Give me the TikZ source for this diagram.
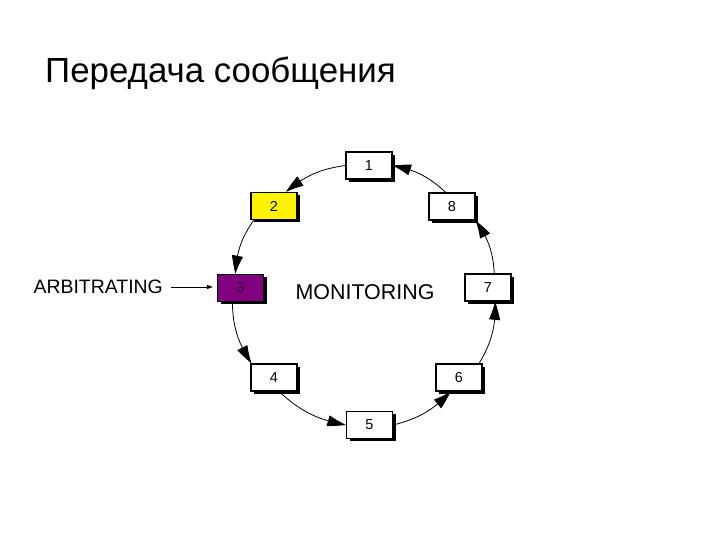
\documentclass[tikz,border=0pt]{standalone}
\usepackage{fontspec}
\setmainfont{Liberation Sans}
\usetikzlibrary{arrows.meta,shadows,bending}
\begin{document}
\begin{tikzpicture}[x=1bp,y=1bp,
	state/.style={draw,fill=white,line width=1.2bp,minimum width=46bp,minimum height=27bp,inner sep=0pt,font=\fontsize{14.5}{14.5}\selectfont,
		drop shadow={shadow xshift=3bp,shadow yshift=-3bp,fill=black,opacity=1}},
	link/.style={line width=0.8bp,-{Triangle[length=19bp,width=11bp,bend]}},
	bend angle=16]
			\useasboundingbox (0,0) rectangle (720,540);
			\node[anchor=base west,inner sep=0pt,font=\fontsize{35}{35}\selectfont] (title) at (45,457) {Передача сообщения};
			\node[state] (s1) at (369,374.5) {1};
			\node[state,fill=yellow] (s2) at (274,334) {2};
			\node[state,fill={rgb,255:red,128;green,0;blue,128},text={rgb,255:red,60;green,0;blue,70}] (s3) at (240.5,252) {3};
			\node[state] (s4) at (274,162.5) {4};
			\node[state] (s5) at (369.5,115) {5};
			\node[state] (s6) at (459,162.5) {6};
			\node[state] (s7) at (488,252.5) {7};
			\node[state] (s8) at (452,333.5) {8};
			\node[font=\fontsize{21.5}{21.5}\selectfont] (mon) at (365,248) {MONITORING};
			\node[anchor=east,inner sep=0pt,font=\fontsize{19.5}{19.5}\selectfont] (arb) at (163,253) {ARBITRATING};
			\draw[line width=0.8bp,-{Triangle[length=6bp,width=4bp]},shorten >=4bp] (arb.east) ++(8,0) coordinate (a0) -- (a0 -| s3.west);
			\draw[link] (s1.west) to[bend right] (s2.50);
			\draw[link] (s2.215) to[bend right] (s3.110);
			\draw[link] (s3.240) to[bend right] (s4.148);
			\draw[link] (s4.290) to[bend right] (s5.west);
			\draw[link] (s5.east) to[bend right] (s6.240);
			\draw[link] (s6.35) to[bend right] (s7.297);
			\draw[link] (s7.66) to[bend right] (s8.south east);
			\draw[link] (s8.114) to[bend right] (s1.east);
\end{tikzpicture}
\end{document}
